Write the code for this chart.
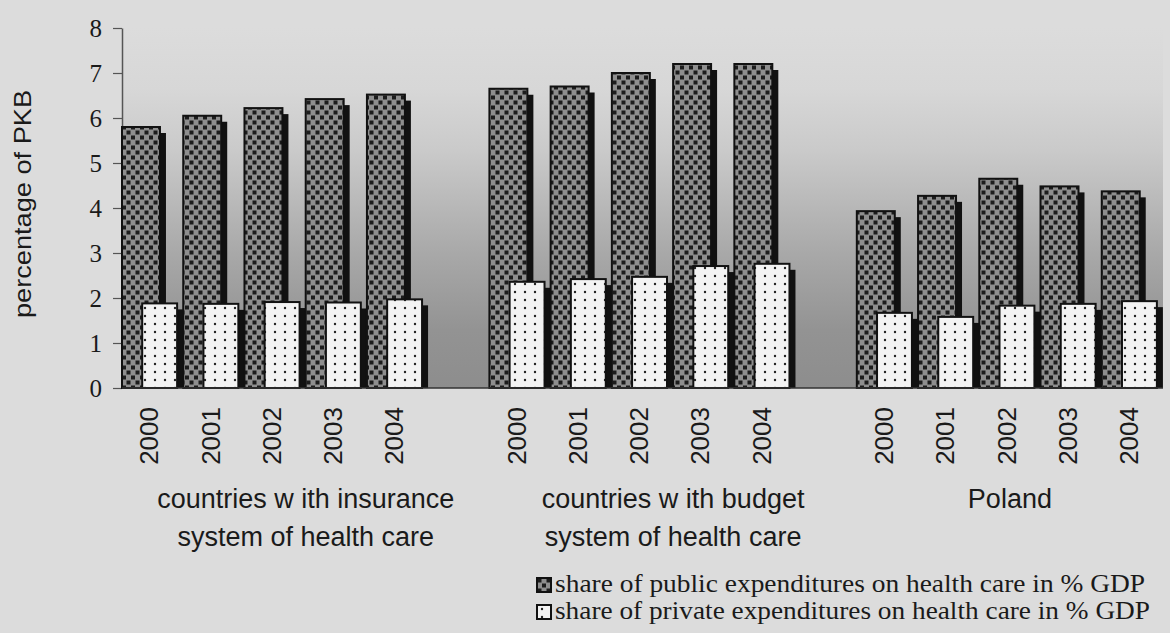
<!DOCTYPE html>
<html>
<head>
<meta charset="utf-8">
<script src="https://cdn.jsdelivr.net/npm/d3@7"></script>
<style>
  body { margin: 0; background: #dcdcdc; }
  #chart { width: 1170px; height: 633px; }
</style>
</head>
<body>
<div id="chart"></div>
<script>
const years = ["2000", "2001", "2002", "2003", "2004"];
const groupNames = [
  ["countries w ith insurance", "system of health care"],
  ["countries w ith budget", "system of health care"],
  ["Poland"],
];
// share of public expenditures, % GDP
const publicShare = [
  [5.8, 6.05, 6.22, 6.42, 6.52],
  [6.65, 6.7, 7.0, 7.2, 7.2],
  [3.93, 4.27, 4.65, 4.48, 4.37],
];
// share of private expenditures, % GDP
const privateShare = [
  [1.88, 1.87, 1.91, 1.9, 1.97],
  [2.36, 2.42, 2.47, 2.71, 2.76],
  [1.67, 1.58, 1.83, 1.87, 1.93],
];
const yTicks = [0, 1, 2, 3, 4, 5, 6, 7, 8];
const yTitle = "percentage of PKB";
const legendLabels = [
  "share of public expenditures on health care in % GDP",
  "share of private expenditures on health care in % GDP",
];

class GroupedBar {
  constructor(el) {
    this.el = el;
    this.wrangleData();
  }

  wrangleData() {
    // one slot per year, plus an empty slot closing every group but the last
    const slots = [];
    groupNames.forEach((g, gi) => {
      years.forEach((y, yi) => {
        slots.push({
          group: gi,
          year: y,
          pub: publicShare[gi][yi],
          priv: privateShare[gi][yi],
        });
      });
      if (gi < groupNames.length - 1) slots.push({ group: gi, year: null });
    });
    this.slots = slots.map((d, i) => ({ ...d, idx: i }));
    this.initChart();
  }

  initChart() {
    const that = this;
    const width = 1170;
    const height = 633;
    that.margin = { left: 122, right: 7, top: 28, bottom: 245 };

    const svg = d3
      .select(`#${this.el}`)
      .append("svg")
      .attr("width", width)
      .attr("height", height);

    const defs = svg.append("defs");

    const grad = defs
      .append("linearGradient")
      .attr("id", "bg")
      .attr("x1", 0).attr("y1", 0)
      .attr("x2", 0).attr("y2", 1);
    [
      [0, "#dcdcdc"],
      [0.17, "#d7d7d7"],
      [0.34, "#cacaca"],
      [0.62, "#a9a9a9"],
      [0.84, "#939393"],
      [1, "#8d8d8d"],
    ].forEach(([o, c]) => grad.append("stop").attr("offset", o).attr("stop-color", c));

    const pubPat = defs
      .append("pattern")
      .attr("id", "pubPat")
      .attr("patternUnits", "userSpaceOnUse")
      .attr("width", 9)
      .attr("height", 10);
    pubPat.append("rect").attr("width", 9).attr("height", 10).attr("fill", "#8e8e8e");
    pubPat.append("rect").attr("x", 0.5).attr("y", 0.5).attr("width", 4).attr("height", 4).attr("fill", "#1c1c1c");
    pubPat.append("rect").attr("x", 5).attr("y", 5.5).attr("width", 4).attr("height", 4).attr("fill", "#1c1c1c");

    const privPat = defs
      .append("pattern")
      .attr("id", "privPat")
      .attr("patternUnits", "userSpaceOnUse")
      .attr("width", 10)
      .attr("height", 8);
    privPat.append("rect").attr("width", 10).attr("height", 8).attr("fill", "#f3f3f3");
    privPat.append("circle").attr("cx", 5).attr("cy", 4).attr("r", 1.2).attr("fill", "#222");

    const innerBottom = height - that.margin.bottom;

    that.x = d3
      .scaleBand()
      .domain(that.slots.map((d) => d.idx))
      .range([that.margin.left, width - that.margin.right]);

    that.y = d3
      .scaleLinear()
      .domain([0, 8])
      .range([innerBottom - 0, that.margin.top]);

    // plot area
    svg
      .append("rect")
      .attr("x", that.margin.left)
      .attr("y", that.margin.top)
      .attr("width", width - that.margin.right - that.margin.left)
      .attr("height", innerBottom - that.margin.top)
      .attr("fill", "url(#bg)");

    // y axis
    const yAxis = d3
      .axisLeft(that.y)
      .tickValues(yTicks)
      .tickSize(9)
      .tickSizeOuter(0)
      .tickPadding(11);
    const yG = svg
      .append("g")
      .attr("transform", `translate(${that.margin.left},0)`)
      .call(yAxis);
    yG.select(".domain").attr("stroke", "#555").attr("stroke-width", 1.5);
    yG.selectAll(".tick line").attr("stroke", "#555").attr("stroke-width", 1.2);
    yG.selectAll(".tick text")
      .attr("font-family", "Liberation Serif, serif")
      .attr("font-size", 25)
      .attr("fill", "#1a1a1a");

    svg
      .append("text")
      .text(yTitle)
      .attr("transform", `translate(31,204) rotate(-90)`)
      .attr("text-anchor", "middle")
      .attr("font-family", "Liberation Sans, Arial, sans-serif")
      .attr("font-size", 24)
      .attr("textLength", 228)
      .attr("lengthAdjust", "spacingAndGlyphs")
      .attr("fill", "#1a1a1a");

    // bars
    const bw = that.x.bandwidth();
    const shadow = 6;
    const data = that.slots.filter((d) => d.year);
    const barG = svg.selectAll(".slot").data(data).join("g").attr("class", "slot");

    const pubX = (d) => that.x(d.idx);
    const pubW = bw * 0.62;
    const privX = (d) => that.x(d.idx) + bw * 0.33;
    const privW = bw * 0.57;

    barG
      .append("rect")
      .attr("x", (d) => pubX(d) + shadow)
      .attr("y", (d) => that.y(d.pub) + shadow)
      .attr("width", pubW)
      .attr("height", (d) => that.y(0) - that.y(d.pub) - shadow)
      .attr("fill", "#111");
    barG
      .append("rect")
      .attr("x", pubX)
      .attr("y", (d) => that.y(d.pub))
      .attr("width", pubW)
      .attr("height", (d) => that.y(0) - that.y(d.pub))
      .attr("fill", "url(#pubPat)")
      .attr("stroke", "#111")
      .attr("stroke-width", 2);
    barG
      .append("rect")
      .attr("x", (d) => privX(d) + shadow)
      .attr("y", (d) => that.y(d.priv) + shadow)
      .attr("width", privW)
      .attr("height", (d) => that.y(0) - that.y(d.priv) - shadow)
      .attr("fill", "#111");
    barG
      .append("rect")
      .attr("x", privX)
      .attr("y", (d) => that.y(d.priv))
      .attr("width", privW)
      .attr("height", (d) => that.y(0) - that.y(d.priv))
      .attr("fill", "url(#privPat)")
      .attr("stroke", "#111")
      .attr("stroke-width", 2);

    // baseline
    svg
      .append("line")
      .attr("x1", that.margin.left)
      .attr("x2", width - that.margin.right)
      .attr("y1", that.y(0))
      .attr("y2", that.y(0))
      .attr("stroke", "#333")
      .attr("stroke-width", 1.5);

    // year labels
    svg
      .selectAll(".year")
      .data(data)
      .join("text")
      .attr("class", "year")
      .text((d) => d.year)
      .attr("transform", (d) => `translate(${that.x(d.idx) + bw * 0.44},${that.y(0) + 19}) rotate(-90)`)
      .attr("text-anchor", "end")
      .attr("dy", "0.36em")
      .attr("font-family", "Liberation Sans, Arial, sans-serif")
      .attr("font-size", 26)
      .attr("fill", "#1a1a1a");

    // group labels, centred on the group's slots
    groupNames.forEach((lines, gi) => {
      const gs = that.slots.filter((d) => d.group == gi);
      const cx = (that.x(gs[0].idx) + that.x(gs[gs.length - 1].idx) + bw) / 2;
      const t = svg
        .append("text")
        .attr("text-anchor", "middle")
        .attr("font-family", "Liberation Sans, Arial, sans-serif")
        .attr("font-size", 27)
        .attr("fill", "#1a1a1a");
      lines.forEach((l, li) => {
        t.append("tspan").attr("x", cx).attr("y", 508 + li * 38).text(l);
      });
    });

    // legend
    const legend_g = svg
      .selectAll(".legend")
      .data(legendLabels)
      .join("g")
      .attr("class", "legend")
      .attr("transform", (d, i) => `translate(537,${578 + i * 27})`);

    legend_g
      .append("rect")
      .attr("width", 14)
      .attr("height", 14)
      .attr("fill", (d, i) => (i == 0 ? "url(#pubPat)" : "url(#privPat)"))
      .attr("stroke", "#111")
      .attr("stroke-width", 2);

    legend_g
      .append("text")
      .text((d) => d)
      .attr("x", 18)
      .attr("y", 14)
      .attr("font-family", "Liberation Serif, serif")
      .attr("font-size", 25)
      .attr("textLength", (d, i) => (i == 0 ? 590 : 595))
      .attr("lengthAdjust", "spacingAndGlyphs")
      .attr("fill", "#1a1a1a");
  }
}

new GroupedBar("chart");
</script>
</body>
</html>
